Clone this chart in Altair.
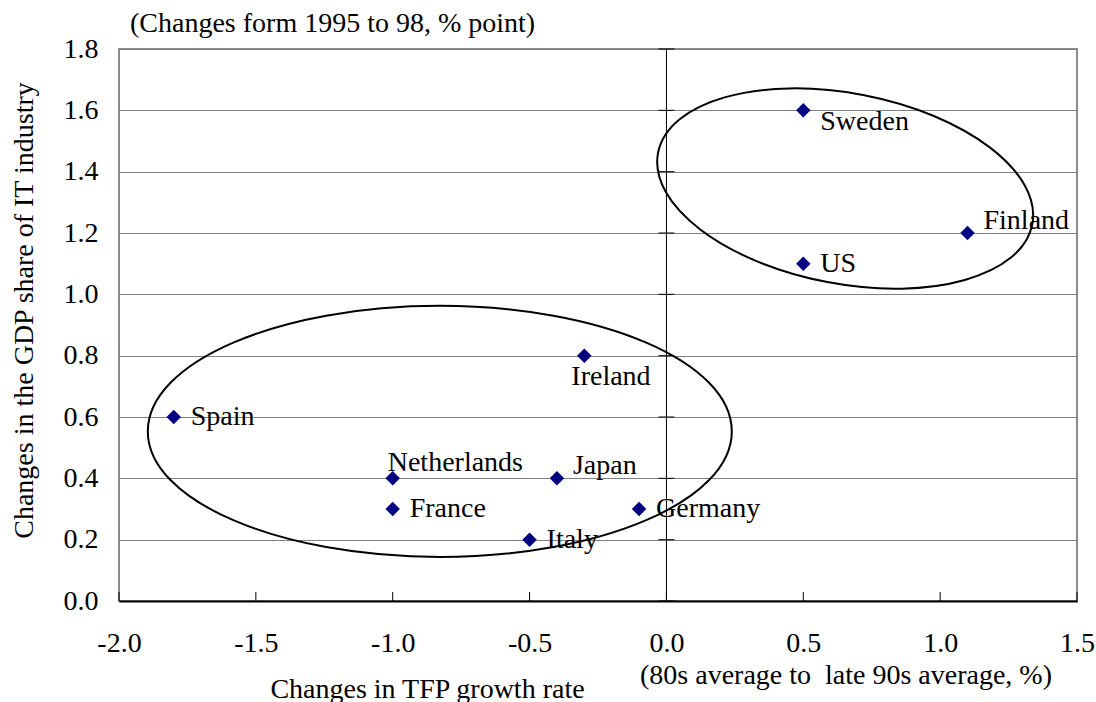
import altair as alt
import pandas as pd

# Scatter data: change in TFP growth rate vs change in GDP share of the IT industry
countries = ["Sweden", "Finland", "US", "Ireland", "Spain",
             "Netherlands", "Japan", "France", "Germany", "Italy"]
tfp_change = [0.5, 1.1, 0.5, -0.3, -1.8, -1.0, -0.4, -1.0, -0.1, -0.5]
it_share_change = [1.6, 1.2, 1.1, 0.8, 0.6, 0.4, 0.4, 0.3, 0.3, 0.2]
label_side = ["below_right", "above_right", "right", "below", "right",
              "above", "above_right", "right", "right", "right"]

x_ticks = [-2.0, -1.5, -1.0, -0.5, 0.0, 0.5, 1.0, 1.5]
y_ticks = [0.0, 0.2, 0.4, 0.6, 0.8, 1.0, 1.2, 1.4, 1.6, 1.8]

# Centres of the two circled country groups (data units)
group_names = ["leaders", "others"]
group_x = [0.653, -0.828]
group_y = [1.345, 0.553]

# --- styling -------------------------------------------------------------
FONT = "Liberation Serif"
FS = 28
W, H = 958, 552
NAVY = "#000080"
GRID = "#808080"

# label offsets (dx, dy) in pixels for each placement
LABEL_OFFSETS = {
    "right": (17, 0),
    "below_right": (17, 12),
    "above_right": (16, -12),
    "below": (-13, 21),
    "above": (-5, -15),
}

# ellipse outlines: (half-width px, minor/major ratio, tilt deg)
RINGS = {
    "leaders": (190.5, 0.50, 10.8),
    "others": (292.0, 0.43, 0.0),
}

df = pd.DataFrame({
    "country": countries,
    "tfp": tfp_change,
    "share": it_share_change,
    "side": label_side,
})
rings_df = pd.DataFrame({"group": group_names, "tfp": group_x, "share": group_y})

x_scale = alt.Scale(domain=[-2.0, 1.5], nice=False, zero=False)
y_scale = alt.Scale(domain=[0.0, 1.8], nice=False, zero=False)

x_axis = alt.Axis(
    values=x_ticks, format=".1f",
    labelExpr="replace(datum.label, '\u2212', '-')",
    grid=False, ticks=False, domain=True,
    domainColor="#000000", domainWidth=2,
    labelPadding=42, labelBaseline="middle",
    labelFlush=False, labelOverlap=False,
    title="Changes in TFP growth rate",
    titleX=308, titleY=88, titleBaseline="middle", titleAlign="center",
    zindex=1,
)
y_axis = alt.Axis(
    values=y_ticks, format=".1f",
    grid=True, gridColor=GRID, gridWidth=1,
    ticks=False, domain=False,
    labelPadding=21, labelBaseline="middle",
    labelFlush=False, labelOverlap=False,
    title="Changes in the GDP share of IT industry",
    titleX=-95, titleY=261, titleBaseline="middle", titleAlign="center",
    titleAngle=270,
)

X = alt.X("tfp:Q", scale=x_scale, axis=x_axis)
Y = alt.Y("share:Q", scale=y_scale, axis=y_axis)
Xn = alt.X("tfp:Q", scale=x_scale)
Yn = alt.Y("share:Q", scale=y_scale)

base = alt.Chart(df)

# vertical axis line through x = 0 with small cross ticks at each gridline
zero_df = pd.DataFrame({"tfp": [0.0]})
zero_line = alt.Chart(zero_df).mark_rule(color="#000000", strokeWidth=1).encode(x=Xn)
cross_df = pd.DataFrame({"tfp": [0.0] * len(y_ticks), "share": y_ticks})
cross_ticks = alt.Chart(cross_df).mark_tick(
    orient="horizontal", size=16, thickness=1, color="#000000", opacity=1
).encode(x=Xn, y=Yn)

# inward tick marks on the horizontal axis
xt_df = pd.DataFrame({"tfp": x_ticks})
x_tick_marks = alt.Chart(xt_df).mark_rule(color="#000000", strokeWidth=1).encode(
    x=Xn, y=alt.value(H - 9), y2=alt.value(H)
)

points = base.mark_point(
    shape="diamond", filled=True, size=210, color=NAVY, opacity=1
).encode(x=X, y=Y)

label_layers = []
for side, (dx, dy) in LABEL_OFFSETS.items():
    label_layers.append(
        base.transform_filter(alt.datum.side == side).mark_text(
            align="left", baseline="middle", dx=dx, dy=dy,
            font=FONT, fontSize=FS, color="#000000",
        ).encode(x=Xn, y=Yn, text="country:N")
    )

ring_layers = []
for name, (half_w, ratio, tilt) in RINGS.items():
    path = f"M -1 0 A 1 {ratio} 0 1 1 1 0 A 1 {ratio} 0 1 1 -1 0 Z"
    ring_layers.append(
        alt.Chart(rings_df).transform_filter(alt.datum.group == name).mark_point(
            shape=path, size=(2 * half_w) ** 2, angle=tilt,
            filled=False, stroke="#000000", strokeWidth=2, opacity=1,
        ).encode(x=Xn, y=Yn)
    )

note_df = pd.DataFrame({"k": [0]})
top_note = alt.Chart(note_df).mark_text(
    align="left", baseline="middle", font=FONT, fontSize=FS, color="#000000",
    text="(Changes form 1995 to 98, % point)",
).encode(x=alt.value(11), y=alt.value(-25))
bottom_note = alt.Chart(note_df).mark_text(
    align="center", baseline="middle", font=FONT, fontSize=FS, color="#000000",
    text="(80s average to \u00a0late 90s average, %)",
).encode(x=alt.value(727), y=alt.value(627))

chart = alt.layer(
    zero_line, cross_ticks, x_tick_marks, *ring_layers, points, *label_layers,
    top_note, bottom_note,
).properties(
    width=W, height=H,
    autosize=alt.AutoSizeParams(type="none"),
    padding={"left": 119, "top": 49, "right": 19, "bottom": 101},
    background="#ffffff",
).configure_view(
    stroke="#8c8c8c", strokeWidth=2,
).configure_axis(
    labelFont=FONT, labelFontSize=FS, labelColor="#000000",
    titleFont=FONT, titleFontSize=FS, titleColor="#000000", titleFontWeight="normal",
)

chart.save("out.html", embed_options={"renderer": "svg", "actions": False})
